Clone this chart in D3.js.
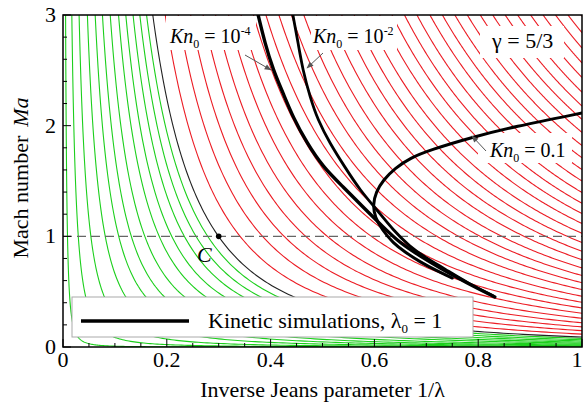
<!DOCTYPE html>
<html><head><meta charset="utf-8">
<script src="https://cdn.jsdelivr.net/npm/d3@7"></script>
<style>
body{margin:0;background:#fff}
svg{display:block}
text{font-family:"Liberation Serif","Times New Roman",serif;fill:#000}
</style></head><body>
<svg id="chart" width="584" height="402"></svg>
<script>
// Axis ticks
const xTicks = [0, 0.2, 0.4, 0.6, 0.8, 1];
const yTicks = [0, 1, 2, 3];
const xMinorStep = 0.05;
const yMinorStep = 0.2;

// 1/λ where each iso-line of Ma/λ² meets the upper edge Ma = 3
const greenTopX = [0.005, 0.017, 0.031, 0.047, 0.062, 0.076, 0.091, 0.107, 0.121, 0.135, 0.148, 0.161];
const boundaryTopX = 0.173;
const redTopX = [0.197, 0.222, 0.246, 0.270, 0.294, 0.319, 0.343, 0.367, 0.391, 0.416, 0.440, 0.464,
                 0.488, 0.513, 0.537, 0.561, 0.585, 0.610, 0.634, 0.658, 0.682, 0.707, 0.731, 0.755,
                 0.779, 0.804, 0.828, 0.852, 0.876, 0.901, 0.925, 0.949, 0.973, 0.998];

// Kinetic simulations, λ0 = 1: [1/λ, Ma]
const kn4 = [[0.376,3.000],[0.389,2.747],[0.405,2.503],[0.424,2.295],[0.443,2.078],[0.470,1.843],
             [0.501,1.626],[0.540,1.446],[0.578,1.265],[0.617,1.084],[0.649,0.940],[0.688,0.822],
             [0.726,0.714],[0.775,0.587],[0.832,0.452]];
const kn2 = [[0.443,3.000],[0.453,2.747],[0.462,2.503],[0.476,2.259],[0.491,2.051],[0.514,1.843],
             [0.543,1.626],[0.572,1.419],[0.605,1.238],[0.636,1.057],[0.669,0.904],[0.697,0.813],
             [0.736,0.705],[0.780,0.578],[0.829,0.461]];
const kn1 = [[1.000,2.114],[0.867,1.988],[0.790,1.898],[0.707,1.780],[0.669,1.708],[0.640,1.617],
             [0.617,1.509],[0.603,1.401],[0.597,1.283],[0.601,1.175],[0.615,1.057],[0.636,0.940],
             [0.659,0.858],[0.688,0.768],[0.721,0.687],[0.750,0.623]];
const pointC = [0.3, 1];
const sonicMa = 1;

const svg = d3.select("#chart");
const x = d3.scaleLinear().domain([0, 1]).range([63, 582]);
const y = d3.scaleLinear().domain([0, 3]).range([347, 15]);
const line = d3.line().x(d => x(d[0])).y(d => y(d[1]));
const smooth = d3.line().x(d => x(d[0])).y(d => y(d[1])).curve(d3.curveBasis);

svg.append("defs").call(defs => {
  defs.append("clipPath").attr("id", "plot")
    .append("rect").attr("x", x(0)).attr("y", y(3)).attr("width", x(1) - x(0)).attr("height", y(0) - y(3));
  defs.append("marker").attr("id", "head").attr("viewBox", "0 0 10 10")
    .attr("refX", 9).attr("refY", 5).attr("markerWidth", 9).attr("markerHeight", 7)
    .attr("orient", "auto").attr("markerUnits", "userSpaceOnUse")
    .append("path").attr("d", "M0,1 L10,5 L0,9 Z").attr("fill", "#555");
});

// iso-line of Ma/λ² through (xt, 3), traced down to the right edge
function isoLine(xt) {
  const k = 3 * xt * xt;
  const maEnd = Math.max(k, 1e-5);
  const n = 160, pts = [];
  for (let i = 0; i <= n; i++) {
    const ma = 3 * Math.pow(maEnd / 3, i / n);
    pts.push([Math.sqrt(k / ma), ma]);
  }
  return pts;
}

const plot = svg.append("g").attr("clip-path", "url(#plot)");
plot.selectAll("path.g").data(greenTopX).join("path").attr("class", "g")
  .attr("d", d => line(isoLine(d))).attr("fill", "none").attr("stroke", "#1ccf1c").attr("stroke-width", 1.1);
plot.selectAll("path.r").data(redTopX).join("path").attr("class", "r")
  .attr("d", d => line(isoLine(d))).attr("fill", "none").attr("stroke", "#ec1c24").attr("stroke-width", 1.1);
plot.append("path").attr("d", line(isoLine(boundaryTopX)))
  .attr("fill", "none").attr("stroke", "#222").attr("stroke-width", 1.1);

// sonic line
plot.append("line").attr("x1", x(0)).attr("x2", x(1)).attr("y1", y(sonicMa)).attr("y2", y(sonicMa))
  .attr("stroke", "#666").attr("stroke-width", 1.3).attr("stroke-dasharray", "9,5");

// white backing behind annotations
const boxes = [[166, 16, 90, 34], [311, 16, 86, 34], [480, 26, 84, 32], [478, 133, 94, 30]];
plot.selectAll("rect.bk").data(boxes).join("rect").attr("class", "bk")
  .attr("x", d => d[0]).attr("y", d => d[1]).attr("width", d => d[2]).attr("height", d => d[3]).attr("fill", "#fff");

// kinetic simulation curves
[[kn4, 3.4], [kn2, 2.8], [kn1, 3]].forEach(([c, w]) => {
  plot.append("path").attr("d", smooth(c)).attr("fill", "none")
    .attr("stroke", "#000").attr("stroke-width", w).attr("stroke-linecap", "round");
});

// point C
svg.append("circle").attr("cx", x(pointC[0])).attr("cy", y(pointC[1])).attr("r", 2.8).attr("fill", "#000");
svg.append("text").attr("x", 197).attr("y", 262).attr("font-size", 22).attr("font-style", "italic").text("C");

// annotations
function knLabel(px, py, tail, sup) {
  const t = svg.append("text").attr("x", px).attr("y", py).attr("font-size", 20);
  t.append("tspan").attr("font-style", "italic").text("Kn");
  t.append("tspan").attr("font-size", 12).attr("dy", 5).text("0");
  t.append("tspan").attr("dy", -5).text(" = " + tail);
  if (sup) t.append("tspan").attr("font-size", 12).attr("dy", -8).text(sup);
}
knLabel(170, 43, "10", "-4");
knLabel(313, 43, "10", "-2");
knLabel(490, 157, "0.1", null);
svg.append("text").attr("x", 492).attr("y", 48).attr("font-size", 22).text("γ = 5/3");

const arrows = [[245, 55, 271, 70], [323, 53, 307, 68], [486, 151, 472, 136]];
svg.selectAll("line.ar").data(arrows).join("line").attr("class", "ar")
  .attr("x1", d => d[0]).attr("y1", d => d[1]).attr("x2", d => d[2]).attr("y2", d => d[3])
  .attr("stroke", "#555").attr("stroke-width", 1).attr("marker-end", "url(#head)");

// legend
const lg = svg.append("g");
lg.append("rect").attr("x", 72).attr("y", 297).attr("width", 401).attr("height", 40)
  .attr("fill", "#fff").attr("stroke", "#aaa").attr("stroke-width", 1);
lg.append("line").attr("x1", 81).attr("x2", 189).attr("y1", 321).attr("y2", 321)
  .attr("stroke", "#000").attr("stroke-width", 3.5);
const lt = lg.append("text").attr("x", 208).attr("y", 328).attr("font-size", 22);
lt.append("tspan").text("Kinetic simulations, λ");
lt.append("tspan").attr("font-size", 13).attr("dy", 5).text("0");
lt.append("tspan").attr("dy", -5).text(" = 1");

// frame and inward ticks
svg.append("rect").attr("x", x(0)).attr("y", y(3)).attr("width", x(1) - x(0)).attr("height", y(0) - y(3))
  .attr("fill", "none").attr("stroke", "#000").attr("stroke-width", 1.5);
const xMinor = d3.range(0, 1.0001, xMinorStep);
const yMinor = d3.range(0, 3.0001, yMinorStep);
svg.selectAll("line.xt").data(xMinor).join("line").attr("class", "xt")
  .attr("x1", d => x(d)).attr("x2", d => x(d)).attr("y1", y(0))
  .attr("y2", d => y(0) - (xTicks.some(t => Math.abs(t - d) < 1e-6) ? 8 : 4))
  .attr("stroke", "#000").attr("stroke-width", 1);
svg.selectAll("line.yt").data(yMinor).join("line").attr("class", "yt")
  .attr("y1", d => y(d)).attr("y2", d => y(d)).attr("x1", x(0))
  .attr("x2", d => x(0) + (yTicks.some(t => Math.abs(t - d) < 1e-6) ? 8 : 4))
  .attr("stroke", "#000").attr("stroke-width", 1);

svg.selectAll("text.xl").data(xTicks).join("text").attr("class", "xl")
  .attr("x", d => Math.min(x(d), 577)).attr("y", 367).attr("text-anchor", "middle").attr("font-size", 22)
  .text(d => d3.format("~g")(d));
svg.selectAll("text.yl").data(yTicks).join("text").attr("class", "yl")
  .attr("x", 56).attr("y", d => y(d) + 7).attr("text-anchor", "end").attr("font-size", 22)
  .text(d => d);

svg.append("text").attr("x", x(0.5)).attr("y", 397).attr("text-anchor", "middle").attr("font-size", 22)
  .text("Inverse Jeans parameter 1/λ");
const yl = svg.append("text").attr("transform", "translate(28,178) rotate(-90)")
  .attr("text-anchor", "middle").attr("font-size", 22);
yl.append("tspan").text("Mach number");
yl.append("tspan").attr("dx", 9).attr("font-style", "italic").text("Ma");
</script>
</body></html>
